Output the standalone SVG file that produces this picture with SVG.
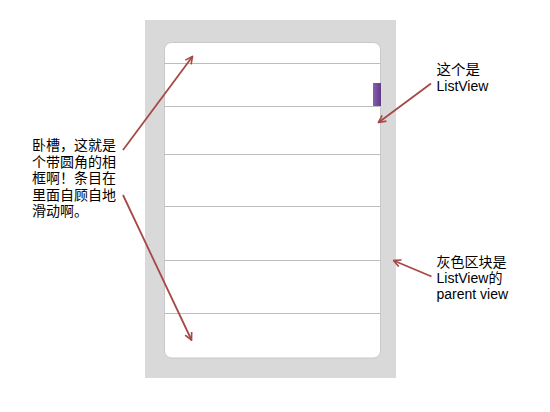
<svg xmlns="http://www.w3.org/2000/svg" width="550" height="412" viewBox="0 0 550 412">
<style>
.sep{stroke:#bcbcbc;stroke-width:1;fill:none}
.arr{stroke:#a64846;stroke-width:1.8;fill:none;marker-end:url(#ah)}
.cn{font-family:"Liberation Sans","Noto Sans CJK SC",sans-serif;font-size:14px;fill:#000}
.lat{font-family:"Liberation Sans","Noto Sans CJK SC",sans-serif;font-size:14px;fill:#000}
</style>
<defs>
<marker id="ah" viewBox="0 0 10 10" refX="9" refY="5" markerWidth="5" markerHeight="5" orient="auto" markerUnits="strokeWidth">
<path d="M1,1 L9,5 L1,9" fill="none" stroke="#a64846" stroke-width="1.8"/>
</marker>
<linearGradient id="pg" x1="0" y1="0" x2="1" y2="0">
<stop offset="0" stop-color="#8a5fb0"/>
<stop offset="1" stop-color="#5f3b88"/>
</linearGradient>
</defs>
<rect width="550" height="412" fill="#fff"/>
<g id="parent-view">
<rect x="145" y="20" width="251" height="358" fill="#d9d9d9"/>
</g>
<g id="listview">
<rect x="164.5" y="42.5" width="216" height="315.5" rx="7" fill="#fff" stroke="#c9c9c9" stroke-width="1"/>
<line class="sep" x1="164" y1="63.5" x2="380" y2="63.5"/>
<line class="sep" x1="164" y1="106.5" x2="380" y2="106.5"/>
<line class="sep" x1="164" y1="154.5" x2="380" y2="154.5"/>
<line class="sep" x1="164" y1="206.5" x2="380" y2="206.5"/>
<line class="sep" x1="164" y1="260.5" x2="380" y2="260.5"/>
<line class="sep" x1="164" y1="313.5" x2="380" y2="313.5"/>
<rect x="373" y="83" width="8" height="23" fill="url(#pg)"/>
</g>
<g id="label-left">
<text class="cn" x="32" y="150">卧槽，这就是</text>
<text class="cn" x="32" y="166.5">个带圆角的相</text>
<text class="cn" x="32" y="183">框啊！条目在</text>
<text class="cn" x="32" y="199.5">里面自顾自地</text>
<text class="cn" x="32" y="216">滑动啊。</text>
</g>
<g id="label-listview">
<text class="cn" x="436.5" y="75" style="font-size:14.5px">这个是</text>
<text class="lat" x="436.5" y="91">ListView</text>
</g>
<g id="label-parent">
<text class="cn" x="436.5" y="267">灰色区块是</text>
<text class="lat" x="436.5" y="283">ListView的</text>
<text class="lat" x="436.5" y="299">parent view</text>
</g>
<g id="connectors">
<line class="arr" x1="123" y1="150" x2="192.5" y2="56.5"/>
<line class="arr" x1="123" y1="195" x2="191.5" y2="340"/>
<line class="arr" x1="431" y1="83.5" x2="378.5" y2="122.5"/>
<line class="arr" x1="431.5" y1="276.5" x2="393.5" y2="260.5"/>
</g>
</svg>
